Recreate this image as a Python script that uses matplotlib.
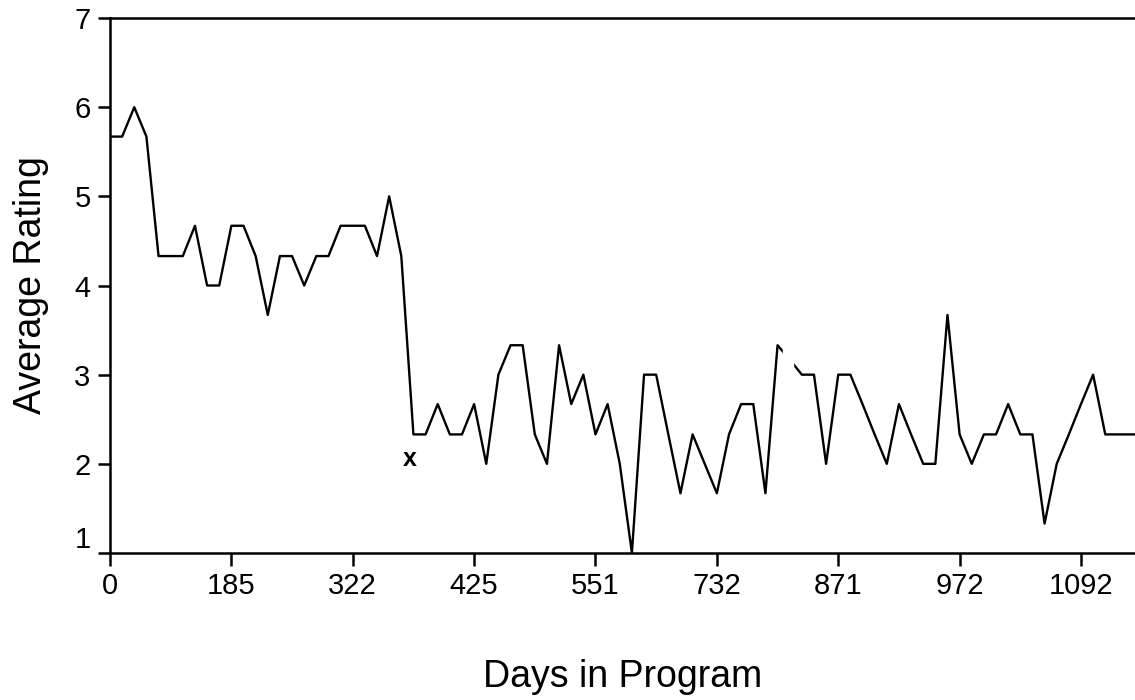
import matplotlib
matplotlib.use("Agg")
import matplotlib.pyplot as plt
import matplotlib.transforms as mtransforms

plt.rcParams["font.family"] = ["Liberation Sans", "DejaVu Sans"]

# average rating per session
ratings = [5.67, 5.67, 6.0, 5.67, 4.33, 4.33, 4.33, 4.67, 4.0, 4.0,
           4.67, 4.67, 4.33, 3.67, 4.33, 4.33, 4.0, 4.33, 4.33, 4.67,
           4.67, 4.67, 4.33, 5.0, 4.33, 2.33, 2.33, 2.67, 2.33, 2.33,
           2.67, 2.0, 3.0, 3.33, 3.33, 2.33, 2.0, 3.33, 2.67, 3.0,
           2.33, 2.67, 2.0, 1.0, 3.0, 3.0, 2.33, 1.67, 2.33, 2.0,
           1.67, 2.33, 2.67, 2.67, 1.67, 3.33, 3.17, 3.0, 3.0, 2.0,
           3.0, 3.0, 2.67, 2.33, 2.0, 2.67, 2.33, 2.0, 2.0, 3.67,
           2.33, 2.0, 2.33, 2.33, 2.67, 2.33, 2.33, 1.33, 2.0, 2.33,
           2.67, 3.0, 2.33, 2.33, 2.33, 2.33]
sessions = list(range(len(ratings)))

tick_pos = [0, 10, 20, 30, 40, 50, 60, 70, 80]
day_labels = ["0", "185", "322", "425", "551", "732", "871", "972", "1092"]
y_ticks = [1, 2, 3, 4, 5, 6, 7]

fig = plt.figure(figsize=(11.35, 7), dpi=100)
ax = fig.add_axes([110 / 1135, 1 - 553 / 700, 1 - 110 / 1135, (553 - 18) / 700])

ax.plot(sessions, ratings, color="black", lw=1.7)
# small break in the line near session 56, as in the original
ax.axvspan(55.45, 56.3, ymin=0.3, ymax=0.45, color="white", zorder=3)

ax.text(24.7, 2.05, "x", fontsize=18, fontweight="bold", ha="center", va="center")

ax.set_xlim(0, 84.45)
ax.set_ylim(1, 7)
ax.set_xticks(tick_pos)
ax.set_xticklabels(day_labels)
ax.set_yticks(y_ticks)

for side in ("left", "bottom", "top"):
    ax.spines[side].set_linewidth(1.8)
ax.spines["right"].set_visible(False)
ax.tick_params(axis="both", direction="out", length=9, width=1.8,
               labelsize=21, pad=5, top=False, right=False)

# lift the "1" so it clears the "0" below
for lab in ax.get_yticklabels():
    if lab.get_text() == "1":
        lab.set_transform(lab.get_transform() +
                          mtransforms.ScaledTranslation(0, 0.16, fig.dpi_scale_trans))

ax.set_xlabel("Days in Program", fontsize=27, labelpad=42)
ax.set_ylabel("Average Rating", fontsize=27, labelpad=18)

fig.savefig("out.png", dpi=100)
